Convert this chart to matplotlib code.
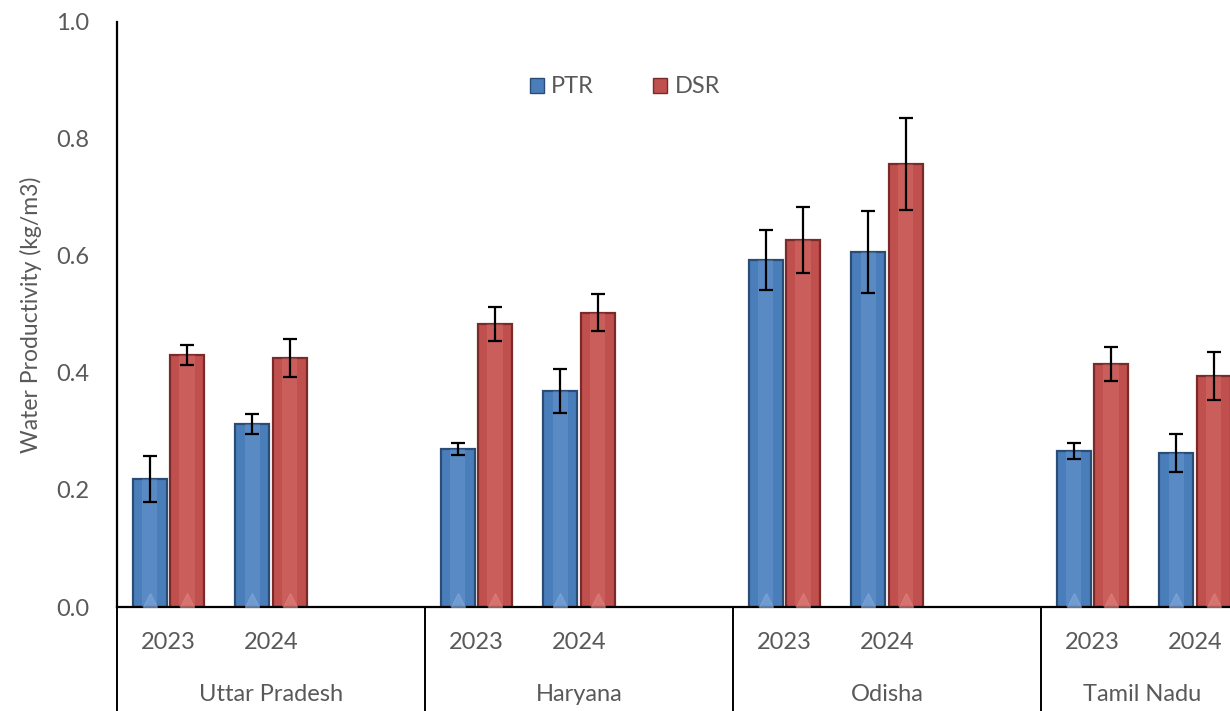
import matplotlib
matplotlib.use("Agg")
import matplotlib.pyplot as plt
import numpy as np
from matplotlib.patches import Patch
import matplotlib.transforms as mtransforms

regions = ["Uttar Pradesh", "Haryana", "Odisha", "Tamil Nadu"]
years = ["2023", "2024"]
ptr = [0.219, 0.313, 0.270, 0.369, 0.593, 0.607, 0.267, 0.263]
dsr = [0.431, 0.426, 0.484, 0.503, 0.627, 0.757, 0.415, 0.395]
ptr_err = [0.039, 0.017, 0.011, 0.038, 0.051, 0.070, 0.014, 0.033]
dsr_err = [0.017, 0.032, 0.029, 0.032, 0.056, 0.079, 0.029, 0.041]
yticks = [0.0, 0.2, 0.4, 0.6, 0.8, 1.0]

plt.rcParams['font.family'] = ['Lato', 'DejaVu Sans']
grey = '#595959'

fig = plt.figure(figsize=(12.3, 7.11), dpi=100)
ax = fig.add_axes([117/1230, 1 - 607/711, 1 - 117/1230, (607 - 22)/711])

# slot positions: 3 slots per region, last empty
xs = []
for r in range(len(regions)):
    for k in range(len(years)):
        xs.append(r * 3 + k)
xs = np.array(xs, dtype=float)

w = 0.33
off = 0.182
blue, blue_edge, blue_light = '#4A7EBB', '#2B4C75', '#7FA8DA'
red, red_edge, red_light = '#C0504D', '#7A2B29', '#E0807D'

for vals, errs, pos, fc, ec, lc in [(ptr, ptr_err, xs - off, blue, blue_edge, blue_light),
                                     (dsr, dsr_err, xs + off, red, red_edge, red_light)]:
    ax.bar(pos, vals, width=w, color=fc, edgecolor=ec, linewidth=1.6, zorder=2)
    ax.bar(pos, vals, width=w * 0.45, color=lc, alpha=0.3, linewidth=0, zorder=3)
    ax.plot(pos, [0.012] * len(pos), linestyle='none', marker='^', markersize=10,
            color=lc, alpha=0.6, zorder=4, clip_on=True)
    ax.errorbar(pos, vals, yerr=errs, fmt='none', ecolor='black', elinewidth=1.6,
                capsize=5, capthick=1.6, zorder=5)

ax.set_ylim(0, 1.0)
ax.set_xlim(-0.5, 10.34)
ax.set_yticks(yticks)
ax.set_yticklabels([f"{t:.1f}" for t in yticks], color=grey, fontsize=17)
ax.tick_params(axis='y', length=0, pad=20)
ax.set_xticks([])
for s in ['top', 'right']:
    ax.spines[s].set_visible(False)
ax.spines['left'].set_linewidth(1.6)
ax.spines['bottom'].set_linewidth(1.6)
ax.set_ylabel("Water Productivity (kg/m3)", color=grey, fontsize=16.5, labelpad=10)

trans = mtransforms.blended_transform_factory(ax.transData, ax.transAxes)
for i, x in enumerate(xs):
    ax.text(x, -0.06, years[i % 2], transform=trans, ha='center', va='center',
            fontsize=17, color=grey)
# region labels centred on the visible part of each group
region_centres = [1, 4, 7, 9.48]
for name, xc in zip(regions, region_centres):
    ax.text(xc, -0.149, name, transform=trans, ha='center', va='center',
            fontsize=17, color=grey)
for r in range(len(regions)):
    xb = r * 3 - 0.5
    ax.plot([xb, xb], [0, -0.2], transform=trans, color='black', linewidth=1.4,
            clip_on=False)

handles = [Patch(facecolor=blue, edgecolor=blue_edge, label='PTR'),
           Patch(facecolor=red, edgecolor=red_edge, label='DSR')]
ax.legend(handles=handles, loc='center', bbox_to_anchor=((625 - 117) / 1113, 1 - (87 - 22) / 585),
          ncol=2, frameon=False, fontsize=17, labelcolor=grey, handlelength=0.6,
          handleheight=0.6, handletextpad=0.3, columnspacing=2.5)

fig.savefig("out.png", dpi=100)
